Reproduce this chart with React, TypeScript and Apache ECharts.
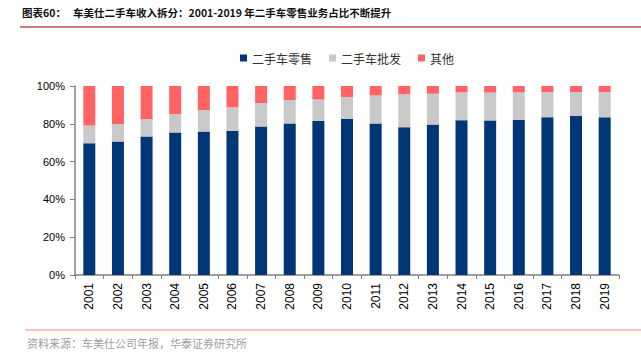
import React, { useEffect, useRef } from "react";
import * as echarts from "echarts";

const years = ["2001","2002","2003","2004","2005","2006","2007","2008","2009","2010","2011","2012","2013","2014","2015","2016","2017","2018","2019"];
const retail = [69.7,70.6,73.3,75.4,75.9,76.3,78.6,80.2,81.6,82.7,80.2,78.2,79.6,81.9,81.8,82.1,83.5,84.1,83.4];
const wholesale = [9.4,9.2,9.2,9.7,11.4,12.4,12.4,12.4,11.3,11.5,14.8,17.4,16.3,14.7,14.7,14.5,13.3,12.7,13.4];
const others = [20.9,20.2,17.5,14.9,12.7,11.3,9.0,7.4,7.1,5.8,5.0,4.4,4.1,3.4,3.5,3.4,3.2,3.2,3.2];

const seriesNames = ["二手车零售", "二手车批发", "其他"];
const colors = ["#003576", "#c9c9c9", "#ff6363"];

export default function App() {
  const ref = useRef<HTMLDivElement>(null);
  useEffect(() => {
    if (!ref.current) return;
    const chart = echarts.init(ref.current, null, { renderer: "svg" });
    const dataSets = [retail, wholesale, others];
    chart.setOption({
      animation: false,
      backgroundColor: "#ffffff",
      grid: { left: 75, right: 22, top: 86, bottom: 80 },
      legend: {
        left: 235,
        top: 47,
        itemWidth: 7,
        itemHeight: 7,
        itemGap: 17,
        icon: "rect",
        textStyle: { fontFamily: "Noto Sans CJK SC", fontSize: 12, color: "#333" },
        data: seriesNames,
      },
      xAxis: {
        type: "category",
        data: years,
        axisLine: { lineStyle: { color: "#808080", width: 1.5 } },
        axisTick: { show: true, length: 4, lineStyle: { color: "#808080" } },
        axisLabel: { rotate: 90, margin: 8, fontSize: 12, color: "#000", fontFamily: "Liberation Sans" },
      },
      yAxis: {
        type: "value",
        min: 0,
        max: 100,
        interval: 20,
        splitLine: { show: false },
        axisLine: { show: true, lineStyle: { color: "#808080", width: 1.5 } },
        axisTick: { show: true, length: 5, lineStyle: { color: "#808080" } },
        axisLabel: { formatter: "{value}%", fontSize: 11, color: "#000", margin: 10, fontFamily: "Liberation Sans" },
      },
      series: seriesNames.map((name, i) => ({
        name,
        type: "bar",
        stack: "total",
        barWidth: 12,
        data: dataSets[i],
        itemStyle: { color: colors[i] },
      })),
      graphic: [
        {
          type: "text",
          left: 22,
          top: 7,
          style: {
            text: "图表60：   车美仕二手车收入拆分：2001-2019 年二手车零售业务占比不断提升",
            font: "bold 10.5px 'Noto Sans CJK SC'",
            fill: "#111",
          },
        },
        {
          type: "line",
          shape: { x1: 20, y1: 27, x2: 641, y2: 27 },
          style: { stroke: "#c0504d", lineWidth: 1.5 },
        },
        {
          type: "line",
          shape: { x1: 25, y1: 330, x2: 641, y2: 330 },
          style: { stroke: "#f4877f", lineWidth: 1 },
        },
        {
          type: "text",
          left: 27,
          top: 337,
          style: {
            text: "资料来源：车美仕公司年报，华泰证券研究所",
            font: "11px 'Noto Sans CJK SC'",
            fill: "#a0a0a0",
          },
        },
      ],
    });
    return () => chart.dispose();
  }, []);
  return <div ref={ref} style={{ width: 641, height: 355, position: "absolute", left: 0, top: 0 }} />;
}
